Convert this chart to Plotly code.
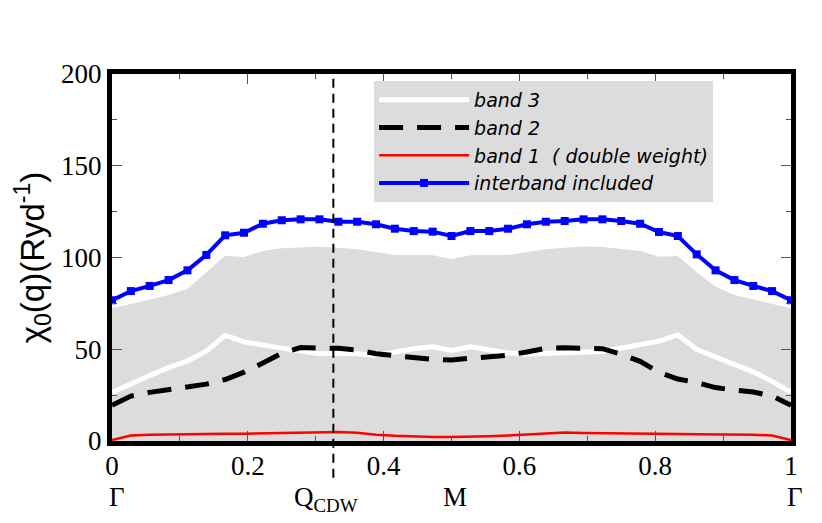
import plotly.graph_objects as go

# q along Γ–M–Γ path, 37 samples
q = [i / 36 for i in range(37)]

interband = [76.7, 81.7, 84.5, 87.7, 93.0, 101.4, 112.1, 113.5, 118.4, 120.3, 120.8, 120.8,
             119.5, 119.5, 118.1, 115.7, 114.4, 114.1, 111.7, 114.4, 114.4, 115.7, 118.1, 119.5,
             119.9, 120.8, 120.8, 119.9, 118.4, 113.9, 111.7, 101.7, 93.0, 87.7, 84.5, 81.7, 76.7]

shade = [72.3, 74.5, 77.0, 79.5, 83.0, 92.0, 101.0, 100.3, 103.5, 105.0, 105.6, 105.9,
         105.3, 104.5, 103.0, 101.4, 101.2, 101.2, 99.0, 101.2, 101.2, 101.4, 103.0, 104.5,
         105.3, 106.0, 105.7, 104.8, 103.6, 100.4, 100.8, 92.0, 84.0, 79.5, 77.0, 74.5, 72.3]

band3 = [26.5, 31.3, 35.7, 40.0, 43.6, 49.0, 57.6, 54.0, 52.0, 50.6, 49.0, 47.5,
         47.8, 47.6, 46.7, 48.5, 50.3, 51.3, 49.4, 51.4, 50.0, 48.0, 47.4, 47.7,
         47.8, 48.2, 48.8, 50.7, 52.5, 54.4, 57.8, 50.0, 45.8, 42.0, 37.7, 32.5, 26.5]

band2 = [19.5, 24.5, 26.5, 27.8, 29.4, 31.0, 33.5, 37.5, 42.5, 47.8, 50.9, 51.0,
         50.5, 49.5, 47.6, 46.5, 45.5, 44.5, 44.2, 45.0, 46.2, 46.8, 48.5, 50.5,
         50.8, 50.8, 50.3, 47.3, 43.4, 37.5, 33.8, 31.8, 29.1, 27.7, 26.7, 24.5, 19.5]

band1 = [0.5, 3.0, 3.4, 3.6, 3.7, 3.8, 3.9, 4.0, 4.1, 4.2, 4.3, 4.6,
         4.9, 4.5, 3.4, 2.8, 2.4, 2.2, 2.2, 2.3, 2.6, 3.0, 3.4, 4.2,
         4.6, 4.4, 4.2, 4.1, 4.0, 3.9, 3.8, 3.7, 3.6, 3.6, 3.4, 3.0, 0.5]

q_cdw = 0.326
special_x = [0, q_cdw, 0.5, 1]
special_labels = ["Γ", "Q<sub>CDW</sub>", "M", "Γ"]
special_shift = [5, -7, 3, 4]

x_ticks = [0, 0.2, 0.4, 0.6, 0.8, 1]
x_ticktext = ["0", "0.2", "0.4", "0.6", "0.8", "1"]
y_ticks = [0, 50, 100, 150, 200]

fig = go.Figure()
fig.add_trace(go.Scatter(x=q, y=shade, mode="lines", fill="tozeroy",
                         fillcolor="#dcdcdc", line=dict(width=0, color="#dcdcdc"),
                         showlegend=False, hoverinfo="skip"))
fig.add_trace(go.Scatter(x=q, y=band3, mode="lines", name="band 3",
                         line=dict(color="white", width=5)))
fig.add_trace(go.Scatter(x=q, y=band2, mode="lines", name="band 2",
                         line=dict(color="black", width=5, dash="24px,14px")))
fig.add_trace(go.Scatter(x=q, y=band1, mode="lines", name="band 1  ( double weight)",
                         line=dict(color="red", width=2.5)))
fig.add_trace(go.Scatter(x=q, y=interband, mode="lines+markers", name="interband included",
                         line=dict(color="#0000ff", width=4),
                         marker=dict(symbol="square", size=8, color="#0000ff")))

fig.add_shape(type="line", xref="x", yref="paper", x0=q_cdw, x1=q_cdw, y0=-0.1, y1=1,
              line=dict(color="black", width=2, dash="9px,6px"))

for xv, lab, sh in zip(special_x, special_labels, special_shift):
    fig.add_annotation(x=xv, y=-0.105, xref="x", yref="paper", text=lab, showarrow=False,
                       yanchor="top", xanchor="center", xshift=sh,
                       font=dict(family="Liberation Serif", size=27, color="black"))

serif = dict(family="Liberation Serif", size=27, color="black")
fig.update_layout(
    width=822, height=523,
    margin=dict(l=104, r=39, t=66, b=90),
    paper_bgcolor="white", plot_bgcolor="white",
    showlegend=True,
    legend=dict(x=0.386, y=0.981, xanchor="left", yanchor="top",
                bgcolor="#dcdcdc", borderwidth=0,
                font=dict(family="DejaVu Sans", size=19, color="black", style="italic"),
                itemwidth=90, tracegroupgap=0),
    xaxis=dict(range=[0, 1], tickvals=x_ticks, ticktext=x_ticktext, ticks="inside",
               ticklen=10, tickwidth=1, tickcolor="#555", showgrid=False, zeroline=False,
               showline=True, linewidth=5, linecolor="black", mirror="ticks",
               minor=dict(dtick=0.1, ticks="inside", ticklen=5, tickcolor="#555"),
               tickfont=serif, automargin=False, ticklabelstandoff=-3),
    yaxis=dict(range=[0, 200], tickvals=y_ticks, ticks="inside",
               ticklen=10, tickwidth=1, tickcolor="#555", showgrid=False, zeroline=False,
               showline=True, linewidth=5, linecolor="black", mirror="ticks",
               minor=dict(dtick=25, ticks="inside", ticklen=5, tickcolor="#555"),
               tickfont=serif, automargin=False,
               title=dict(text="χ<sub>0</sub>(q)(Ryd<sup>-1</sup>)", standoff=8,
                          font=dict(family="Liberation Sans", size=33, color="black"))),
)

fig.write_html("out.html")
